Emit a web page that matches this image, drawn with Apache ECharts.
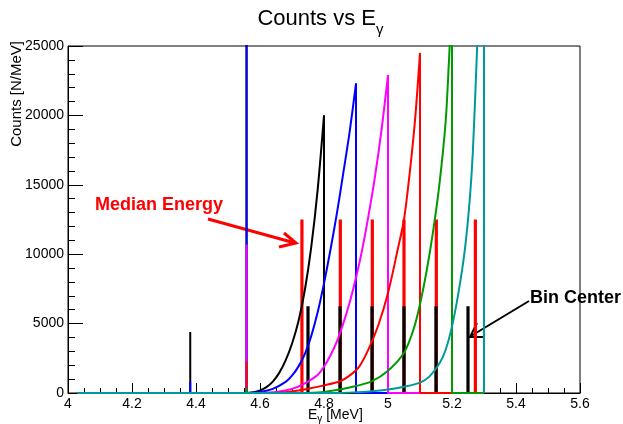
<!DOCTYPE html>
<html><head><meta charset="utf-8">
<script src="https://cdn.jsdelivr.net/npm/echarts@6/dist/echarts.min.js"></script>
<style>html,body{margin:0;padding:0;background:#fff}#c{width:623px;height:424px}</style>
</head><body><div id="c"></div>
<script>
// ---------- data ----------
const xRange = [4, 5.6];
const yRange = [0, 25000];
const baselineStart = 4.03;

// Histogram curves (E [MeV], counts) : rising part up to the bin edge
const blackCurve = [[4.55,0],[4.58,60],[4.60,180],[4.62,420],[4.64,820],[4.66,1450],[4.68,2350],[4.70,3550],[4.72,5150],[4.74,7400],[4.76,10500],[4.78,14600],[4.80,20000]];
const blueCurve = [[4.56,0],[4.60,80],[4.64,300],[4.68,800],[4.70,1250],[4.72,1900],[4.74,2800],[4.76,4100],[4.78,5800],[4.80,7900],[4.82,10300],[4.84,12900],[4.86,15800],[4.88,18800],[4.90,22300]];
const magentaCurve = [[4.60,0],[4.65,80],[4.70,300],[4.74,700],[4.78,1300],[4.80,1900],[4.82,2700],[4.84,3700],[4.86,5000],[4.88,6500],[4.90,8300],[4.92,10400],[4.94,12900],[4.96,15700],[4.98,19000],[5.00,22900]];
const redCurve = [[4.65,0],[4.70,100],[4.75,300],[4.80,550],[4.85,850],[4.88,1250],[4.91,1900],[4.94,3200],[4.97,4900],[5.00,7200],[5.03,10300],[5.05,12500],[5.07,16300],[5.085,19800],[5.10,24500]];
const greenCurve = [[4.75,0],[4.80,80],[4.85,250],[4.90,500],[4.95,850],[5.00,1600],[5.05,2900],[5.08,4600],[5.10,6400],[5.12,8700],[5.14,11500],[5.16,14900],[5.18,19500],[5.19,23700],[5.20,28500]];
const cyanCurve = [[4.85,0],[4.90,50],[4.95,120],[5.00,250],[5.05,450],[5.10,750],[5.13,1200],[5.16,2100],[5.18,3100],[5.20,4800],[5.22,7200],[5.24,10300],[5.255,13800],[5.265,17300],[5.277,24000],[5.285,29000],[5.30,36000]];

// narrow peaks (E, counts) in each histogram
const blackSpikes = [[4.382,4400],[4.558,30000]];
const blueSpikes = [[4.382,820],[4.558,28000]];
const magentaSpikes = [[4.382,120],[4.558,10700]];
const redSpikes = [[4.382,40],[4.558,2250]];
const greenSpikes = [[4.382,0],[4.558,360]];
const cyanSpikes = [[4.382,0],[4.558,60]];

// where each histogram's empty tail ends
const histRangeEnd = [4.90, 5.00, 5.10, 5.20, 5.30, 5.30];

// markers
const medianEnergy = [4.731, 4.851, 4.951, 5.050, 5.151, 5.273];
const medianHeight = [12500, 12500, 12500, 12500, 12500, 12500];
const binCenter = [4.75, 4.85, 4.95, 5.05, 5.15, 5.25];
const binCenterHeight = [6250, 6250, 6250, 6250, 6250, 6250];

// ---------- styles ----------
const FONT = 'Liberation Sans, Arial, Helvetica, sans-serif';
const histColors = ['#000000', '#0000ff', '#ff00ff', '#ff0000', '#009a00', '#009999'];
const curves = [blackCurve, blueCurve, magentaCurve, redCurve, greenCurve, cyanCurve];
const spikes = [blackSpikes, blueSpikes, magentaSpikes, redSpikes, greenSpikes, cyanSpikes];

const series = [];
curves.forEach((c, i) => {
  const col = histColors[i];
  const base = [[baselineStart, 0]];
  spikes[i].forEach(s => { base.push([s[0], 0], [s[0], s[1]], [s[0], 0]); });
  base.push([c[0][0], 0]);
  const last = c[c.length - 1];
  const drop = [[last[0], last[1]], [last[0], 0], [histRangeEnd[i], 0]];
  const common = {type: 'line', symbol: 'none', silent: true, animation: false,
    lineStyle: {color: col, width: 2}, clip: true};
  series.push(Object.assign({}, common, {data: base}));
  series.push(Object.assign({}, common, {data: c, smooth: 0.3}));
  series.push(Object.assign({}, common, {data: drop}));
});

function barRender(color, w) {
  return function (params, api) {
    const x = api.value(0), h = api.value(1);
    const p0 = api.coord([x, 0]), p1 = api.coord([x, h]);
    return {type: 'rect', shape: {x: p0[0] - w / 2, y: p1[1], width: w, height: p0[1] - p1[1]},
      style: {fill: color}};
  };
}
series.push({type: 'custom', animation: false, silent: true,
  data: medianEnergy.map((e, i) => [e, medianHeight[i]]),
  renderItem: barRender('#ff0000', 3.2)});
series.push({type: 'custom', animation: false, silent: true,
  data: binCenter.map((e, i) => [e, binCenterHeight[i]]),
  renderItem: barRender('#000000', 3.2)});

const chart = echarts.init(document.getElementById('c'), null, {renderer: 'canvas'});
chart.setOption({
  backgroundColor: '#ffffff',
  animation: false,
  grid: {left: 68, right: 43, top: 46, bottom: 31, show: true, borderColor: '#000', borderWidth: 1, backgroundColor: 'transparent'},
  xAxis: {
    type: 'value', min: xRange[0], max: xRange[1], interval: 0.2,
    axisLine: {onZero: false, lineStyle: {color: '#000', width: 1}},
    axisTick: {inside: true, length: 10, lineStyle: {color: '#000'}},
    minorTick: {show: true, splitNumber: 4, length: 5, lineStyle: {color: '#000'}},
    splitLine: {show: false},
    axisLabel: {color: '#000', fontSize: 14, fontFamily: FONT, margin: 4,
      formatter: v => String(Math.round(v * 10) / 10)}
  },
  yAxis: {
    type: 'value', min: yRange[0], max: yRange[1], interval: 5000,
    axisLine: {show: true, onZero: false, lineStyle: {color: '#000', width: 1}},
    axisTick: {show: true, inside: true, length: 15, lineStyle: {color: '#000'}},
    minorTick: {show: true, splitNumber: 5, length: 7, lineStyle: {color: '#000'}},
    splitLine: {show: false},
    axisLabel: {color: '#000', fontSize: 14, fontFamily: FONT, margin: 4, formatter: v => String(v)}
  },
  series: series,
  graphic: [
    {type: 'text', x: 376, y: 19, style: {text: 'Counts vs E', fontSize: 22, fontFamily: FONT, fill: '#000', textAlign: 'right', textVerticalAlign: 'middle'}},
    {type: 'text', x: 376, y: 30, style: {text: 'γ', fontSize: 15, fontFamily: FONT, fill: '#000', textAlign: 'left', textVerticalAlign: 'middle'}},
    {type: 'text', x: 17, y: 41, rotation: Math.PI / 2, style: {text: 'Counts [N/MeV]', fontSize: 15, fontFamily: FONT, fill: '#000', textAlign: 'right', textVerticalAlign: 'middle'}},
    {type: 'text', x: 308, y: 415, style: {text: '{a|E}{b|γ}{a| [MeV]}', fontFamily: FONT, fill: '#000', textAlign: 'left', textVerticalAlign: 'middle',
      rich: {a: {fontSize: 14, fontFamily: FONT, lineHeight: 16}, b: {fontSize: 10, fontFamily: FONT, padding: [8, 0, 0, 0]}}}},
    {type: 'text', x: 95, y: 205, style: {text: 'Median Energy', fontSize: 18, fontWeight: 'bold', fontFamily: FONT, fill: '#ff0000', textAlign: 'left', textVerticalAlign: 'middle'}},
    {type: 'line', shape: {x1: 208, y1: 219, x2: 295, y2: 243}, style: {stroke: '#ff0000', lineWidth: 3}},
    {type: 'polyline', shape: {points: [[284, 233], [296, 243], [279, 247]]}, style: {stroke: '#ff0000', lineWidth: 3, fill: null}},
    {type: 'text', x: 530, y: 298, style: {text: 'Bin Center', fontSize: 18, fontWeight: 'bold', fontFamily: FONT, fill: '#000', textAlign: 'left', textVerticalAlign: 'middle'}},
    {type: 'line', shape: {x1: 529, y1: 301, x2: 471, y2: 336}, style: {stroke: '#000', lineWidth: 2}},
    {type: 'polyline', shape: {points: [[477, 323], [470, 337], [485, 337]]}, style: {stroke: '#000', lineWidth: 2, fill: null}}
  ]
});
</script>
</body></html>
